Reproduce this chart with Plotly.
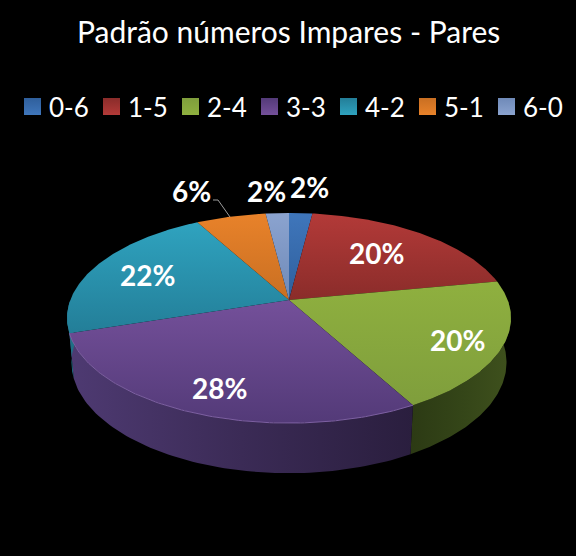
import numpy as np
import plotly.graph_objects as go

title = "Padrão números Impares - Pares"
categories = ["0-6", "1-5", "2-4", "3-3", "4-2", "5-1", "6-0"]
percent = [2, 20, 20, 28, 22, 6, 2]

# top face colours of each slice (upper, lower)
top_colors = [
    ("#3f76bb", "#2f5f9c"),
    ("#b33a38", "#8a2c2a"),
    ("#8fb03f", "#7f9e3c"),
    ("#74509a", "#533a78"),
    ("#2fa3bf", "#237e98"),
    ("#e8822a", "#c96f22"),
    ("#8ba3cf", "#6f8ab8"),
]
# side wall colours (left, mid, right)
side_colors = [
    ("#24466f", "#24466f", "#24466f"),
    ("#6e2423", "#6e2423", "#6e2423"),
    ("#2c3a14", "#344518", "#3f511d"),
    ("#4e3a72", "#3b2b56", "#2a1e3e"),
    ("#1f6f85", "#1f6f85", "#1f6f85"),
    ("#9a5418", "#9a5418", "#9a5418"),
    ("#54688c", "#54688c", "#54688c"),
]
legend_x = [32.5, 111.5, 190.5, 269.5, 348.5, 427.5, 506.5]
label_x = [309, 376, 457, 219, 147, 191, 266]
label_y = [187, 253, 340, 388, 275, 191, 191]

# pie geometry in page pixels, with the near edge drawn larger
CX, CY = 289, 300
RX, RY = 218.7, 102
PERSP = 0.1714
DEPTH = 43.5


def project(theta, drop=0.0, scale=1.0):
    w = 1 + PERSP * np.cos(theta)
    x = CX + scale * RX * np.sin(theta) / w
    y = CY - scale * RY * np.cos(theta) / w + drop / w
    return x, y


edges = np.cumsum([0] + percent) / sum(percent) * 2 * np.pi

fig = go.Figure()

# side walls first, only the part that faces the viewer
for i in range(len(percent)):
    a0, a1 = max(edges[i], np.pi / 2), min(edges[i + 1], 3 * np.pi / 2)
    if a1 <= a0:
        continue
    t = np.linspace(a0, a1, 80)
    x0, y0 = project(t)
    x1, y1 = project(t[::-1], DEPTH, 0.98)
    xs = np.concatenate([x0, x1])
    ys = np.concatenate([y0, y1])
    c_left, c_mid, c_right = side_colors[i]
    fig.add_trace(go.Scatter(
        x=xs, y=ys, mode="lines", line=dict(width=0), fill="toself",
        fillgradient=dict(type="horizontal", start=xs.min(), stop=xs.max(),
                          colorscale=[[0, c_left], [0.5, c_mid], [1, c_right]]),
        hoverinfo="skip", showlegend=False,
    ))

# top face of the slices
for i in range(len(percent)):
    t = np.linspace(edges[i], edges[i + 1], 120)
    x, y = project(t)
    xs = np.concatenate([[CX], x, [CX]])
    ys = np.concatenate([[CY], y, [CY]])
    fig.add_trace(go.Scatter(
        x=xs, y=ys, mode="lines", line=dict(width=0), fill="toself",
        fillgradient=dict(type="vertical", start=ys.min(), stop=ys.max(),
                          colorscale=[[0, top_colors[i][0]], [1, top_colors[i][1]]]),
        hoverinfo="skip", showlegend=False,
    ))

# thin bevel highlight along the purple rim
t = np.linspace(edges[3], edges[4], 120)
rx, ry = project(t)
fig.add_trace(go.Scatter(x=rx, y=ry, mode="lines", line=dict(width=1, color="#7d60a2"),
                         hoverinfo="skip", showlegend=False))

# leader line of the 6% label
fig.add_shape(type="path", path="M 213 200 L 218 200 L 230 217",
              line=dict(color="#d0d0d0", width=0.75))

# legend swatches
for i, name in enumerate(categories):
    fig.add_trace(go.Scatter(
        x=[legend_x[i]], y=[106.5], mode="markers", name=name,
        marker=dict(symbol="square", size=17, color=top_colors[i][1],
                    gradient=dict(type="vertical", color=top_colors[i][0]),
                    line=dict(width=0)),
        hoverinfo="skip", showlegend=False,
    ))
    fig.add_annotation(x=legend_x[i] + 14, y=106.5, text=name, showarrow=False, xanchor="left",
                       font=dict(family="Lato", size=26, color="white"))

for i, v in enumerate(percent):
    fig.add_annotation(x=label_x[i], y=label_y[i], text=f"<b>{v}%</b>", showarrow=False,
                       font=dict(family="Lato", size=28, color="white"))

fig.add_annotation(x=288, y=31, text=title, showarrow=False,
                   font=dict(family="Lato", size=30, color="white"))

fig.update_layout(
    width=576, height=556,
    margin=dict(t=0, b=0, l=0, r=0),
    paper_bgcolor="black", plot_bgcolor="black",
    showlegend=False,
    xaxis=dict(range=[0, 576], visible=False, fixedrange=True),
    yaxis=dict(range=[556, 0], visible=False, fixedrange=True),
)

fig.write_html("out.html", config=dict(displayModeBar=False),
               post_script="document.body.style.margin='0';document.body.style.background='black';")
